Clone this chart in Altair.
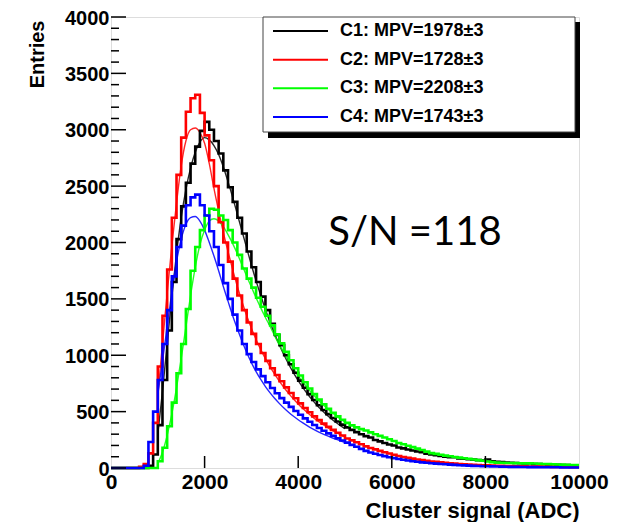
import altair as alt
import pandas as pd

# ---------------- data ----------------
BIN_WIDTH = 100
X_MAX = 10000
SERIES = ["C1: MPV=1978±3", "C2: MPV=1728±3", "C3: MPV=2208±3", "C4: MPV=1743±3"]
COLORS = ["#000000", "#ff0000", "#00ff00", "#0000ff"]

# histogram contents, one value per 100-ADC bin starting at 0
C1 = [0, 0, 0, 0, 0, 0, 0, 0, 20, 120,
      380, 780, 1220, 1650, 2030, 2320, 2530, 2700, 2850, 2990,
      3070, 3000, 2900, 2790, 2640, 2490, 2360, 2220, 2080, 1920,
      1780, 1650, 1520, 1400, 1280, 1180, 1090, 1000, 920, 845,
      775, 712, 655, 603, 557, 515, 478, 443, 412, 385,
      360, 338, 318, 300, 283, 270, 248, 236, 222, 209,
      200, 182, 174, 164, 155, 146, 140, 126, 120, 114,
      107, 101, 96, 95, 84, 82, 78, 74, 70, 66,
      75, 60, 55, 52, 49, 47, 44, 42, 40, 42,
      34, 34, 33, 31, 33, 29, 27, 26, 25, 24]
C2 = [0, 0, 0, 0, 0, 0, 10, 35, 130, 400,
      900, 1350, 1760, 2220, 2600, 2930, 3160, 3280, 3310, 3150,
      2950, 2730, 2500, 2180, 2000, 1830, 1680, 1530, 1400, 1290,
      1190, 1100, 1020, 950, 885, 825, 770, 715, 665, 618,
      573, 532, 494, 458, 425, 394, 365, 338, 312, 288,
      262, 245, 228, 210, 192, 178, 165, 152, 140, 128,
      117, 107, 98, 90, 83, 76, 70, 64, 58, 54,
      50, 46, 42, 39, 36, 33, 31, 29, 27, 25,
      23, 22, 20, 19, 18, 17, 16, 15, 14, 13,
      13, 12, 11, 11, 10, 10, 9, 9, 8, 8]
C3 = [0, 0, 0, 0, 0, 0, 0, 0, 0, 0,
      60, 180, 370, 580, 840, 1100, 1410, 1750, 1960, 2110,
      2240, 2300, 2290, 2240, 2200, 2110, 2000, 1890, 1770, 1680,
      1600, 1510, 1430, 1350, 1265, 1185, 1105, 1030, 955, 885,
      820, 760, 705, 655, 608, 565, 525, 490, 458, 428,
      400, 378, 360, 345, 332, 316, 300, 285, 270, 255,
      240, 222, 210, 198, 185, 172, 160, 145, 132, 125,
      118, 110, 104, 98, 92, 87, 82, 76, 70, 64,
      58, 52, 48, 46, 45, 44, 43, 42, 41, 41,
      40, 38, 36, 35, 33, 31, 30, 28, 27, 26]
C4 = [0, 0, 0, 0, 0, 0, 0, 20, 230, 500,
      780, 1100, 1400, 1700, 1960, 2150, 2330, 2400, 2425, 2330,
      2240, 2100, 1960, 1800, 1640, 1500, 1360, 1220, 1100, 1010,
      940, 875, 815, 760, 710, 663, 620, 580, 542, 506,
      472, 440, 410, 382, 355, 330, 307, 285, 264, 244,
      225, 205, 188, 170, 152, 138, 126, 115, 105, 96,
      88, 80, 73, 66, 60, 55, 50, 46, 42, 39,
      36, 33, 30, 28, 25, 23, 21, 19, 18, 16,
      15, 14, 13, 12, 11, 10, 10, 9, 9, 8,
      8, 7, 7, 6, 6, 6, 5, 5, 5, 4]

# fitted curves, sampled every 100 ADC from 1000 to 5000
FIT_X = list(range(1000, 5001, 100))
FIT_C1 = [300, 680, 1100, 1520, 1900, 2220, 2470, 2660, 2800, 2890,
          2930, 2910, 2860, 2780, 2670, 2540, 2400, 2250, 2100, 1950,
          1800, 1660, 1530, 1405, 1290, 1185, 1090, 1000, 918, 843,
          775, 713, 656, 604, 557, 514, 475, 439, 406, 376, 348]
FIT_C2 = [650, 1100, 1550, 1970, 2350, 2680, 2900, 3000, 3015, 2975,
          2880, 2700, 2480, 2280, 2090, 1920, 1760, 1610, 1475, 1350,
          1240, 1140, 1050, 970, 897, 830, 768, 712, 660, 612,
          568, 528, 490, 455, 423, 393, 366, 340, 317, 295, 275]
FIT_C3 = [40, 140, 290, 480, 710, 970, 1250, 1530, 1780, 1980,
          2110, 2190, 2210, 2190, 2140, 2070, 1990, 1900, 1800, 1700,
          1605, 1510, 1420, 1335, 1255, 1170, 1090, 1015, 945, 880,
          820, 763, 710, 661, 616, 574, 535, 499, 466, 435, 407]
FIT_C4 = [650, 950, 1250, 1560, 1830, 2030, 2160, 2220, 2230, 2190,
          2110, 2000, 1880, 1750, 1610, 1480, 1350, 1235, 1125, 1025,
          935, 855, 785, 722, 666, 616, 571, 530, 493, 459,
          428, 400, 374, 350, 328, 308, 289, 272, 256, 241, 227]

X_TICKS = [0, 2000, 4000, 6000, 8000, 10000]
X_TICK_MARKS = [2000, 4000, 6000, 8000]
Y_TICKS = [0, 500, 1000, 1500, 2000, 2500, 3000, 3500, 4000]
Y_MINOR = [v for v in range(100, 4000, 100) if v % 500 != 0]
ANNOTATION = "S/N =118"

# ---------------- tables ----------------
W, H = 468, 451
hist_rows = []
for name, counts in zip(SERIES, [C1, C2, C3, C4]):
    for i, c in enumerate(counts):
        hist_rows.append({"series": name, "x": i * BIN_WIDTH, "count": c})
    hist_rows.append({"series": name, "x": X_MAX, "count": counts[-1]})
hist_df = pd.DataFrame(hist_rows)

fit_rows = []
for name, vals in zip(SERIES, [FIT_C1, FIT_C2, FIT_C3, FIT_C4]):
    for xv, v in zip(FIT_X, vals):
        fit_rows.append({"series": name, "x": xv, "count": v})
fit_df = pd.DataFrame(fit_rows)

legend_df = pd.DataFrame({"series": SERIES, "row": list(range(len(SERIES)))})
dummy = pd.DataFrame({"a": [0]})

FONT = "Liberation Sans"
xscale = alt.Scale(domain=[0, X_MAX], nice=False, zero=False)
color_scale = alt.Scale(domain=SERIES, range=COLORS)

X_AXIS = alt.Axis(values=X_TICKS, format="d", title="Cluster signal (ADC)",
                  labelFont=FONT, labelFontSize=21, labelFontWeight="bold",
                  labelColor="black", labelPadding=3, labelFlush=False,
                  ticks=False, domain=False, grid=False,
                  titleFont=FONT, titleFontSize=22, titleFontWeight="bold",
                  titleColor="black", titleAlign="right", titleX=W, titleY=49,
                  titleBaseline="alphabetic")


def yscale():
    return alt.Scale(domain=[0, 4000], nice=False)


fits = alt.Chart(fit_df).mark_line(interpolate="monotone", strokeWidth=1.4, opacity=0.85).encode(
    x=alt.X("x:Q", scale=xscale, axis=X_AXIS),
    y=alt.Y("count:Q", scale=yscale(),
            axis=alt.Axis(values=Y_TICKS, format="d", title="Entries",
                          labelFont=FONT, labelFontSize=20, labelFontWeight="bold",
                          labelColor="black", labelPadding=2, labelOffset=1, ticks=False,
                          domain=False, grid=False,
                          titleFont=FONT, titleFontSize=20, titleFontWeight="bold",
                          titleColor="black", titleAngle=270, titleAlign="right",
                          titleBaseline="middle", titleX=-74, titleY=3)),
    color=alt.Color("series:N", scale=color_scale, legend=None),
    detail="series:N",
)

hist = alt.Chart(hist_df).mark_line(interpolate="step-after", strokeWidth=2.6).encode(
    x=alt.X("x:Q", scale=xscale, axis=X_AXIS),
    y=alt.Y("count:Q", scale=yscale(), axis=None),
    color=alt.Color("series:N", scale=color_scale, legend=None),
    detail="series:N",
)

ymajor = alt.Chart(pd.DataFrame({"v": Y_TICKS})).mark_rule(color="black", strokeWidth=1.5).encode(
    y=alt.Y("v:Q", scale=yscale(), axis=None), x=alt.value(0), x2=alt.value(15))
yminor = alt.Chart(pd.DataFrame({"v": Y_MINOR})).mark_rule(color="black", strokeWidth=1.5).encode(
    y=alt.Y("v:Q", scale=yscale(), axis=None), x=alt.value(0), x2=alt.value(8))
xmajor = alt.Chart(pd.DataFrame({"v": X_TICK_MARKS})).mark_rule(color="black", strokeWidth=1.5).encode(
    x=alt.X("v:Q", scale=xscale, axis=X_AXIS), y=alt.value(H), y2=alt.value(H - 12))

shadow = alt.Chart(dummy).mark_rect(color="black").encode(
    x=alt.value(157), x2=alt.value(469), y=alt.value(5), y2=alt.value(121))
box = alt.Chart(dummy).mark_rect(fill="white", stroke="#444444", strokeWidth=1).encode(
    x=alt.value(152), x2=alt.value(464), y=alt.value(0), y2=alt.value(115))

leg_y = alt.Scale(domain=[0, 3], range=[14, 100], nice=False, zero=False)
leg_lines = alt.Chart(legend_df).mark_rule(strokeWidth=2).encode(
    y=alt.Y("row:Q", scale=leg_y, axis=None),
    x=alt.value(162), x2=alt.value(217),
    color=alt.Color("series:N", scale=color_scale, legend=None),
)
leg_text = alt.Chart(legend_df).mark_text(
    align="left", baseline="middle", font=FONT, fontSize=18, fontWeight="bold", color="black"
).encode(
    y=alt.Y("row:Q", scale=leg_y, axis=None),
    x=alt.value(229),
    text="series:N",
)

sn = alt.Chart(dummy).mark_text(
    font="Lato", fontSize=40, color="black", align="center", baseline="middle"
).encode(x=alt.value(304), y=alt.value(216), text=alt.value(ANNOTATION))

chart = alt.layer(
    fits, hist, ymajor, yminor, xmajor, shadow, box, leg_lines, leg_text, sn
).resolve_scale(y="independent").properties(
    width=W, height=H,
    autosize=alt.AutoSizeParams(type="none"),
    padding={"left": 103, "top": 9, "right": 32, "bottom": 54},
).configure_view(stroke="black", strokeWidth=2).configure(background="white")

chart.save("out.html", embed_options={"renderer": "svg", "actions": False})
